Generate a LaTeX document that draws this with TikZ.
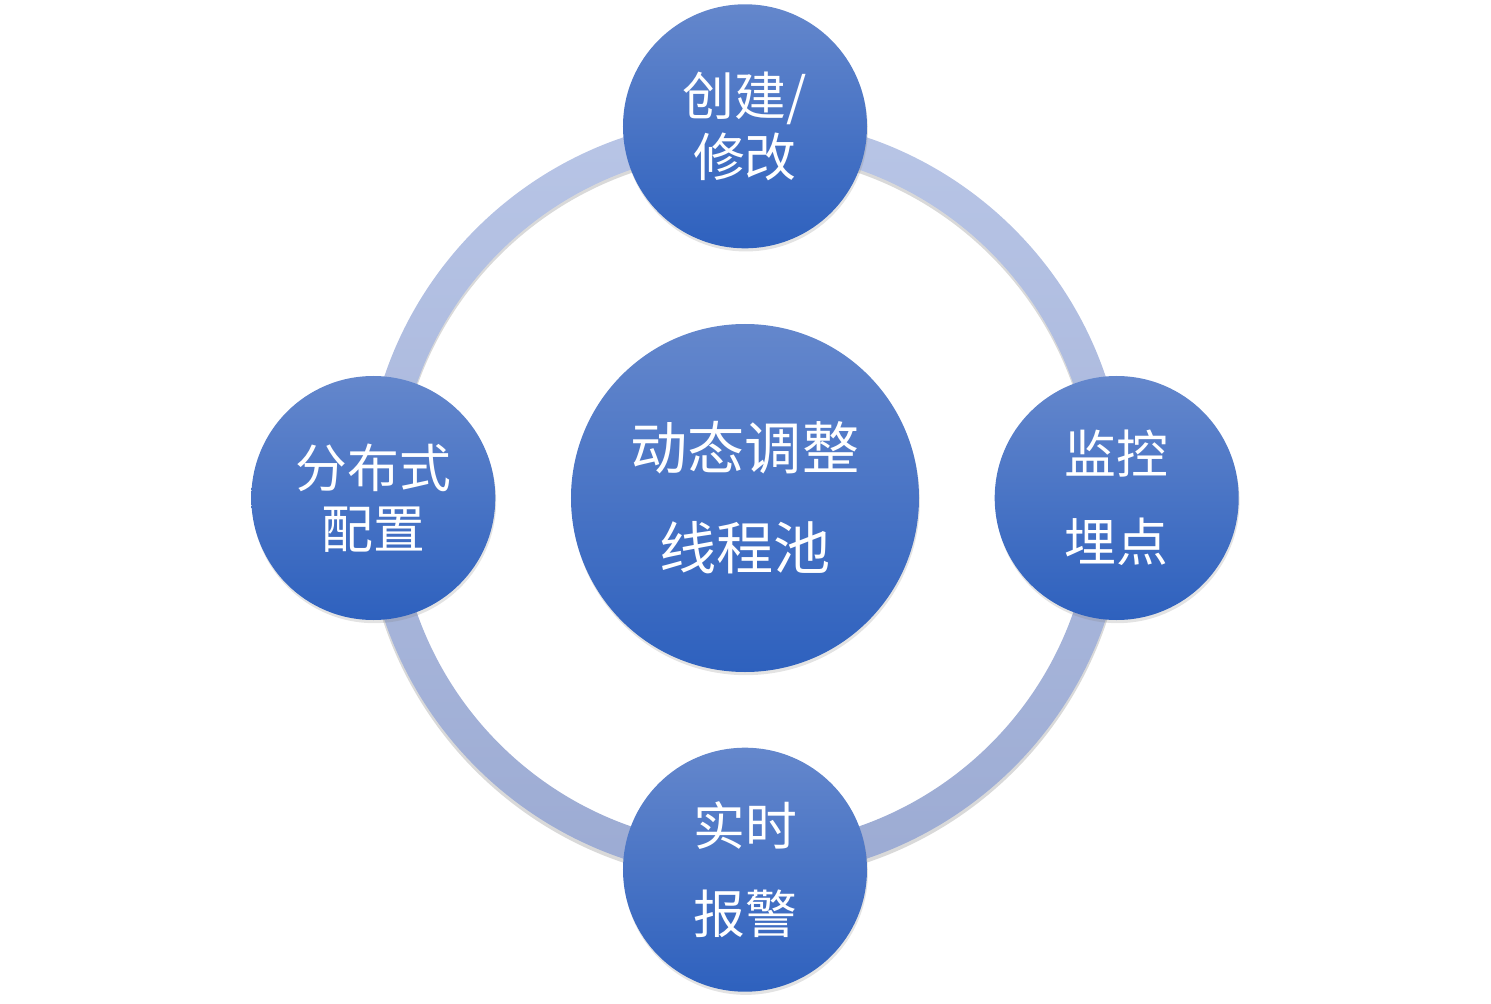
\documentclass[tikz,border=0pt]{standalone}
\usepackage{fontspec}
\newfontfamily\cjk{Noto Sans CJK SC}
\usetikzlibrary{positioning,shadows}
\definecolor{disctop}{HTML}{6487CC}
\definecolor{discbot}{HTML}{2E61BE}
\definecolor{ringtop}{HTML}{B8C5E6}
\definecolor{ringbot}{HTML}{9CABD3}
\tikzset{
  disc/.style={circle,inner sep=0pt,align=center,text=white,top color=disctop,bottom color=discbot,
    drop shadow={shadow xshift=.5pt,shadow yshift=-1.8pt,opacity=.22}},
  hub/.style={disc,minimum size=6.96cm,font=\cjk\fontsize{32.5}{57}\selectfont},
  sat/.style={disc,minimum size=4.88cm,font=\cjk\fontsize{29.5}{35}\selectfont},
  satw/.style={sat,font=\cjk\fontsize{29.5}{50}\selectfont},
}
\begin{document}
\begin{tikzpicture}[node distance=1.5cm]
  \useasboundingbox (-14.9,-10.1) rectangle (14.92,9.96);
  % ring behind the discs
  \fill[black,opacity=.15,even odd rule] (0,-.07) circle (7.62) (0,-.07) circle (6.95);
  \shade[top color=ringtop,bottom color=ringbot,even odd rule] (0,0) circle (7.61) (0,0) circle (6.95);
  \node[hub] (pool) at (0,0) {动态调整\\线程池};
  \node[sat,above=of pool] (edit) {创建/\\修改};
  \node[satw,right=of pool] (probe) {监控\\埋点};
  \node[satw,below=of pool] (alarm) {实时\\报警};
  \node[sat,left=of pool] (dist) {分布式\\配置};
\end{tikzpicture}
\end{document}
